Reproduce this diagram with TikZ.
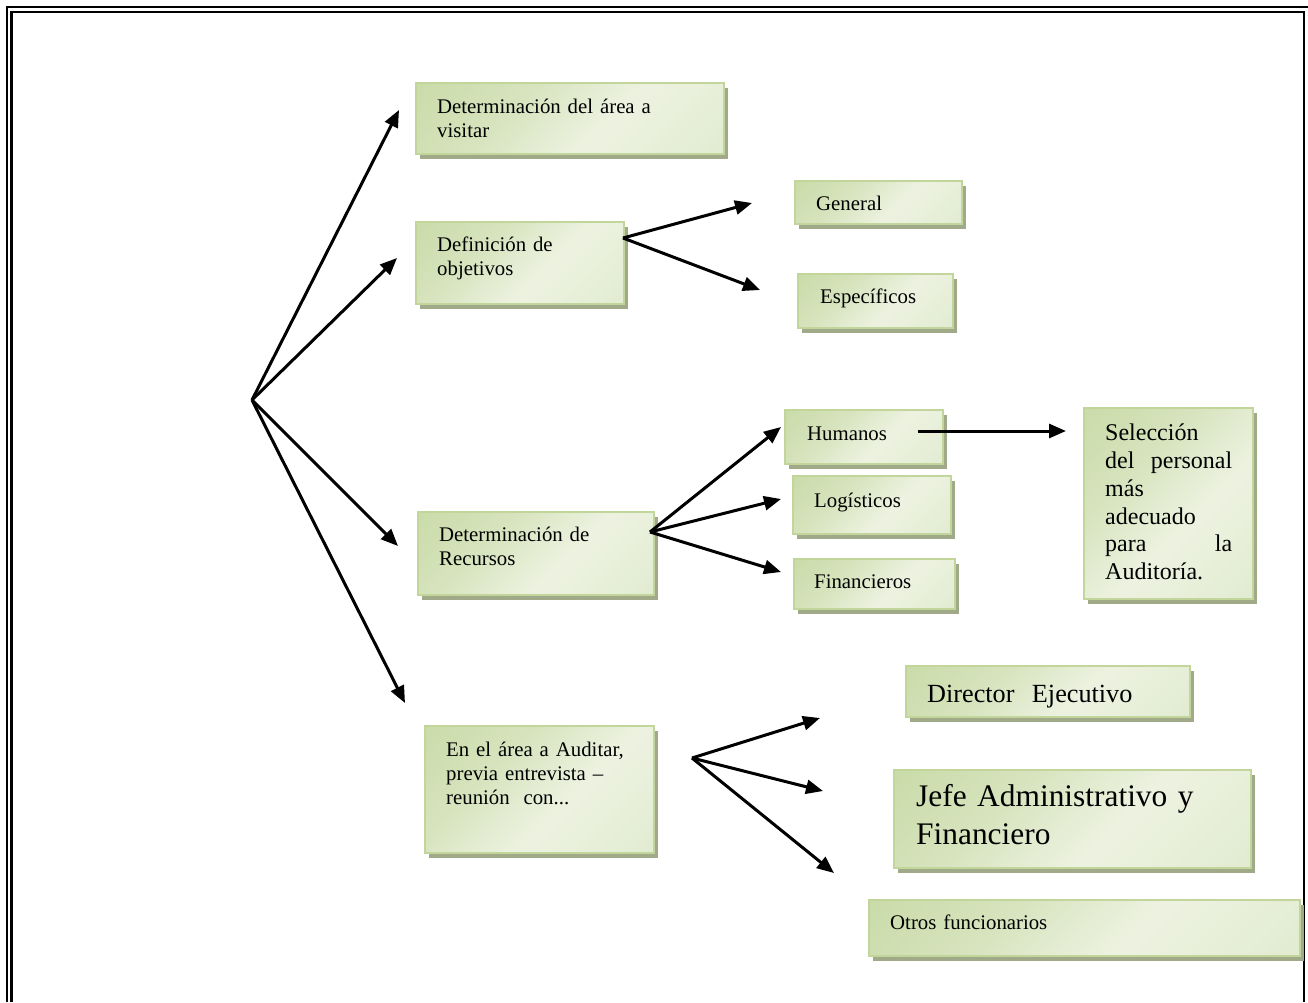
\documentclass[tikz,border=0pt]{standalone}
\usepackage{fontspec}
\setmainfont{Liberation Serif}
\usetikzlibrary{arrows.meta,shadows}

\definecolor{leafedge}{RGB}{194,214,155}
\definecolor{leafshadow}{RGB}{160,170,136}
\pgfdeclarehorizontalshading{leafshade}{100bp}{%
  rgb(0bp)=(0.76,0.84,0.61);
  rgb(36bp)=(0.84,0.89,0.74);
  rgb(58bp)=(0.93,0.95,0.88);
  rgb(100bp)=(0.86,0.91,0.79)}

\newcommand{\smalltxt}{\fontsize{20.8}{24.4}\selectfont}
\newcommand{\midtxt}{\fontsize{24}{27.8}\selectfont}
\newcommand{\bigtxt}{\fontsize{26.2}{30.2}\selectfont}
\newcommand{\hugetxt}{\fontsize{31.4}{37.6}\selectfont}

\tikzset{
  leafbox/.style={draw=leafedge, line width=1.5pt, shading=leafshade,
    shading angle=-45, anchor=north west, inner sep=0pt,
    general shadow={fill=leafshadow, shadow xshift=4pt, shadow yshift=-5pt}},
  boxtext/.style={anchor=base west, inner sep=0pt, align=left, text width=#1},
  boxtext/.default=300pt,
  link/.style={line width=3pt, -{Triangle[length=17pt,width=14pt]}},
  pageline/.style={line width=2.4pt}
}

\begin{document}
\begin{tikzpicture}[x=1pt,y=-1pt]
\useasboundingbox (0,0) rectangle (1308,1002);

% page border (double rule)
\draw[pageline] (7,1002) -- (7,7) -- (1308,7);
\draw[pageline] (11.3,1002) -- (11.3,11.7) -- (1304.2,11.7) -- (1304.2,1002);

% boxes
\node[leafbox, minimum width=308, minimum height=71]  (b1)  at (415,82)  {};
\node[leafbox, minimum width=208, minimum height=82]  (b2)  at (415,221) {};
\node[leafbox, minimum width=167, minimum height=43]  (b3)  at (794,180) {};
\node[leafbox, minimum width=155, minimum height=54]  (b4)  at (797,273) {};
\node[leafbox, minimum width=236, minimum height=83]  (b5)  at (417,511) {};
\node[leafbox, minimum width=158, minimum height=54]  (b6)  at (784,409) {};
\node[leafbox, minimum width=158, minimum height=58]  (b7)  at (792,475) {};
\node[leafbox, minimum width=161, minimum height=50]  (b8)  at (793,558) {};
\node[leafbox, minimum width=169, minimum height=191] (b9)  at (1083,407) {};
\node[leafbox, minimum width=229, minimum height=127] (b10) at (424,725) {};
\node[leafbox, minimum width=284, minimum height=51]  (b11) at (905,665) {};
\node[leafbox, minimum width=357, minimum height=98]  (b12) at (893,769) {};
\node[leafbox, minimum width=431, minimum height=56]  (b13) at (868,899) {};

% box texts
\node[boxtext, font=\smalltxt] (t1) at (437,113.3) {Determinación del área a\\visitar};
\node[boxtext, font=\smalltxt] (t2) at (437,251) {Definición de\\objetivos};
\node[boxtext, font=\smalltxt] (t3) at (816,210) {General};
\node[boxtext, font=\smalltxt] (t4) at (820,303) {Específicos};
\node[boxtext, font=\smalltxt] (t5) at (439,541) {Determinación de\\Recursos};
\node[boxtext, font=\smalltxt] (t6) at (807,440.7) {Humanos};
\node[boxtext, font=\smalltxt] (t7) at (814,507.7) {Logísticos};
\node[boxtext, font=\smalltxt] (t8) at (814,588.3) {Financieros};
\node[boxtext=127pt, font=\midtxt] (t9) at (1105,440.7)
  {Selección\\del\hfill personal\\más\\adecuado\\para\hfill la\\Auditoría.};
\node[boxtext, font=\smalltxt] (t10) at (446,756)
  {En el área a Auditar,\\previa entrevista –\\reunión~ con...};
\node[boxtext, font=\bigtxt] (t11) at (927,702) {Director~ Ejecutivo};
\node[boxtext=340pt, font=\hugetxt] (t12) at (916,806.7) {Jefe Administrativo y\\Financiero};
\node[boxtext, font=\smalltxt] (t13) at (890,929) {Otros funcionarios};

% connector points
\coordinate (hub) at (252,400);
\coordinate (e1) at (399,110);
\coordinate (e2) at (397,258);
\coordinate (e3) at (398,546);
\coordinate (e4) at (405,703);

\coordinate (s2) at (623,238);
\coordinate (e2a) at (752,203);
\coordinate (e2b) at (760,290);

\coordinate (s5) at (650,532);
\coordinate (e5a) at (781,427);
\coordinate (e5b) at (781,499);
\coordinate (e5c) at (781,572);

\coordinate (s6) at (918,431);
\coordinate (e6) at (1066,431);

\coordinate (s10) at (692,758);
\coordinate (e10a) at (820,718);
\coordinate (e10b) at (823,791);
\coordinate (e10c) at (834,873);

% connectors
\draw[link] (hub) -- (e1);
\draw[link] (hub) -- (e2);
\draw[link] (hub) -- (e3);
\draw[link] (hub) -- (e4);
\draw[link] (s2) -- (e2a);
\draw[link] (s2) -- (e2b);
\draw[link] (s5) -- (e5a);
\draw[link] (s5) -- (e5b);
\draw[link] (s5) -- (e5c);
\draw[link] (s6) -- (e6);
\draw[link] (s10) -- (e10a);
\draw[link] (s10) -- (e10b);
\draw[link] (s10) -- (e10c);
\end{tikzpicture}
\end{document}
